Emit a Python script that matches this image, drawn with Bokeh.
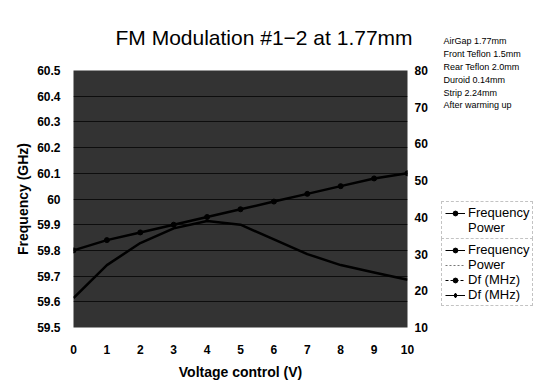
from bokeh.plotting import figure
from bokeh.layouts import row
from bokeh.models import (Range1d, LinearAxis, Legend, LegendItem, Label, ColumnDataSource,
                          FixedTicker, CustomJSTickFormatter, Title)
from bokeh.embed import file_html
from bokeh.resources import INLINE

# ---- data ----
voltage = [0, 1, 2, 3, 4, 5, 6, 7, 8, 9, 10]
frequency_ghz = [59.80, 59.84, 59.87, 59.90, 59.93, 59.96, 59.99, 60.02, 60.05, 60.08, 60.10]
power = [18, 27, 33, 37, 39, 38, 34, 30, 27, 25, 23]
x_ticks = [0, 1, 2, 3, 4, 5, 6, 7, 8, 9, 10]
left_ticks = [59.5, 59.6, 59.7, 59.8, 59.9, 60.0, 60.1, 60.2, 60.3, 60.4, 60.5]
right_ticks = [10, 20, 30, 40, 50, 60, 70, 80]
title_text = "FM Modulation #1\u22122 at 1.77mm"
notes = ["AirGap 1.77mm", "Front Teflon 1.5mm", "Rear Teflon 2.0mm",
         "Duroid 0.14mm", "Strip 2.24mm", "After warming up"]
legend1_labels = ["Frequency", "Power"]
legend2_labels = ["Frequency", "Power", "Df (MHz)", "Df (MHz)"]

FONT = "Liberation Sans"
H = 382

p = figure(width=440, height=H, output_backend="svg", toolbar_location=None, title=None,
           x_range=Range1d(0, 10), y_range=Range1d(59.5, 60.5),
           min_border_left=73, min_border_right=33, min_border_top=70, min_border_bottom=49)
p.outline_line_color = None
p.background_fill_color = "#333333"
p.border_fill_color = "white"

# spacer title (nearest the frame) then the real title
p.add_layout(Title(text="\u00a0", text_font_size="18px", standoff=0), "above")
p.add_layout(Title(text=title_text, text_font=FONT, text_font_size="21px", text_color="black",
                   text_font_style="normal", align="left", offset=42, standoff=0), "above")

p.extra_y_ranges = {"pw": Range1d(10, 80)}
right = LinearAxis(y_range_name="pw", ticker=FixedTicker(ticks=right_ticks))
p.add_layout(right, "right")

for ax in [p.xaxis[0], p.yaxis[0], right]:
    ax.axis_line_color = None
    ax.major_tick_line_color = None
    ax.minor_tick_line_color = None
    ax.major_label_text_font = FONT
    ax.major_label_text_font_size = "12px"
    ax.major_label_text_font_style = "bold"
    ax.major_label_text_color = "black"

p.xaxis.ticker = FixedTicker(ticks=x_ticks)
p.yaxis[0].ticker = FixedTicker(ticks=left_ticks)
p.yaxis[0].formatter = CustomJSTickFormatter(code="return (Math.abs(tick-60)<1e-9) ? '60' : tick.toFixed(1);")

p.xaxis.axis_label = "Voltage control (V)"
p.yaxis[0].axis_label = "Frequency (GHz)"
for ax in [p.xaxis[0], p.yaxis[0]]:
    ax.axis_label_text_font = FONT
    ax.axis_label_text_font_size = "14px"
    ax.axis_label_text_font_style = "bold"
    ax.axis_label_text_color = "black"
p.xaxis.major_label_standoff = 11
p.xaxis.axis_label_standoff = 7
p.yaxis[0].major_label_standoff = 7
p.yaxis[0].axis_label_standoff = 3
right.major_label_standoff = 1

p.xgrid.grid_line_color = None
p.ygrid.grid_line_color = "#0d0d0d"
p.ygrid.grid_line_width = 1

# data lines
src_f = ColumnDataSource(dict(x=voltage, y=frequency_ghz))
src_p = ColumnDataSource(dict(x=voltage, y=power))
p.line("x", "y", source=src_f, line_color="black", line_width=2.5)
p.scatter("x", "y", source=src_f, size=5, color="black")
p.line("x", "y", source=src_p, line_color="black", line_width=2.5, y_range_name="pw")

# ---- side panel with notes and legends ----
SW = 112
s = figure(width=SW, height=H, output_backend="svg", toolbar_location=None,
           x_range=Range1d(0, SW), y_range=Range1d(H, 0),
           x_axis_location=None, y_axis_location=None,
           min_border_left=0, min_border_right=0, min_border_top=0, min_border_bottom=0)
for fig in (p, s):
    try:
        fig.frame_align = False
    except Exception:
        pass
s.outline_line_color = None
s.xgrid.visible = False
s.ygrid.visible = False
s.background_fill_color = "white"
s.border_fill_color = "white"

note_y = [40, 53, 66, 79, 92, 104]
for t, yy in zip(notes, note_y):
    s.add_layout(Label(x=3, y=yy, text=t, text_align="left", text_baseline="middle",
                       text_font=FONT, text_font_size="9px", text_color="black"))

nan = float("nan")
def proxy():
    return ColumnDataSource(dict(x=[nan], y=[nan]))

l_freq = s.line("x", "y", source=proxy(), line_color="black", line_width=1)
m_freq = s.scatter("x", "y", source=proxy(), size=4, color="black")
l_pow = s.line("x", "y", source=proxy(), line_color="#777777", line_width=1, line_dash="2 2")
l_none = s.line("x", "y", source=proxy(), line_color=None)
l_df1 = s.line("x", "y", source=proxy(), line_color="black", line_width=1, line_dash="3 2")
m_df1 = s.scatter("x", "y", source=proxy(), size=4, color="black")
l_df2 = s.line("x", "y", source=proxy(), line_color="black", line_width=1)
m_df2 = s.scatter("x", "y", source=proxy(), size=4, color="black", marker="diamond")

def style(lg):
    lg.label_text_font = FONT
    lg.label_text_font_size = "13px"
    lg.label_text_color = "black"
    lg.border_line_color = "#888888"
    lg.border_line_dash = "2 2"
    lg.border_line_width = 1
    lg.background_fill_color = "white"
    lg.background_fill_alpha = 1
    lg.glyph_width = 20
    lg.glyph_height = 12
    lg.label_height = 12
    lg.label_standoff = 3
    lg.spacing = 0
    lg.padding = 3
    lg.margin = 0

lg1 = Legend(items=[LegendItem(label=legend1_labels[0], renderers=[l_freq, m_freq]),
                    LegendItem(label=legend1_labels[1], renderers=[l_none])],
             location=(1, H - 239))
style(lg1)
s.add_layout(lg1, "center")

lg2 = Legend(items=[LegendItem(label=legend2_labels[0], renderers=[l_freq, m_freq]),
                    LegendItem(label=legend2_labels[1], renderers=[l_pow]),
                    LegendItem(label=legend2_labels[2], renderers=[l_df1, m_df1]),
                    LegendItem(label=legend2_labels[3], renderers=[l_df2, m_df2])],
             location=(1, H - 306))
style(lg2)
s.add_layout(lg2, "center")

layout = row(p, s, spacing=0)
open("out.html", "w").write(file_html(layout, INLINE))
